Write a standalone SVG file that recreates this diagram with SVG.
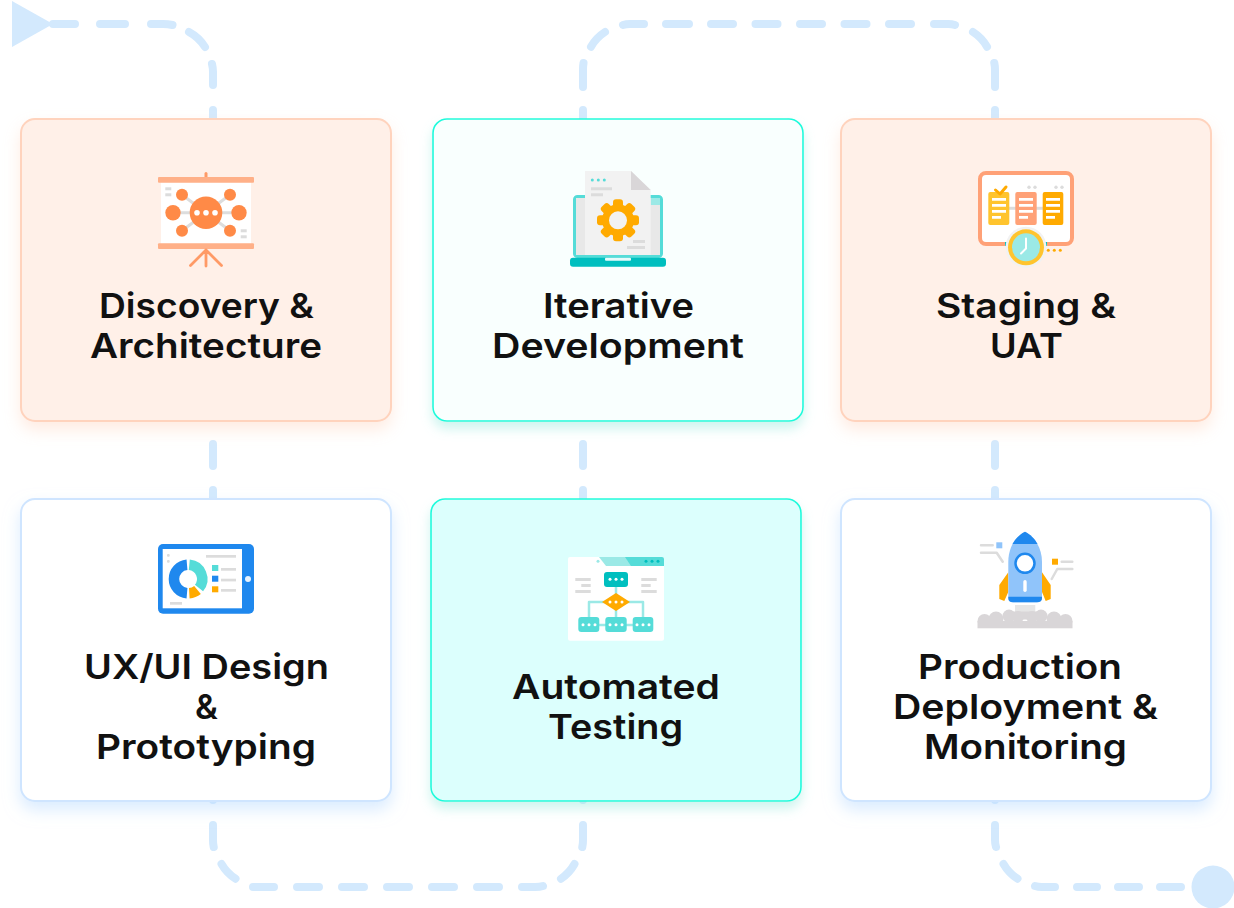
<svg xmlns="http://www.w3.org/2000/svg" width="1234" height="908" viewBox="0 0 1234 908">
<style>
.card{stroke-width:2}
.or{fill:#fff0e8;stroke:#ffd3bd;filter:url(#so)}
.tl{stroke:#1ffbdc;stroke-width:1.600}
.tl1{fill:#f9fffe;filter:url(#st)}
.tl2{fill:#dcfffd;filter:url(#st)}
.wh{fill:#fff;stroke:#cfe5ff;filter:url(#sb)}
.dash{fill:none;stroke:#d3e9fd;stroke-width:8;stroke-linecap:round}
text{font-family:"Inter","Liberation Sans",sans-serif;font-weight:600;font-size:34.5px;fill:#111;text-anchor:middle}
.g{fill:#dcdcdc}
.w{fill:#fff}
.ln{fill:none;stroke-linecap:round;stroke-linejoin:round}
</style>
<defs>
<filter id="so" x="-10%" y="-10%" width="120%" height="125%"><feDropShadow dx="0" dy="8" stdDeviation="8" flood-color="#ffd3bd" flood-opacity=".45"/></filter>
<filter id="st" x="-10%" y="-10%" width="120%" height="125%"><feDropShadow dx="0" dy="7" stdDeviation="6" flood-color="#8fe8dc" flood-opacity=".45"/></filter>
<filter id="sb" x="-10%" y="-10%" width="120%" height="125%"><feDropShadow dx="0" dy="8" stdDeviation="8" flood-color="#bcdcff" flood-opacity=".55"/></filter>
<rect id="tooth" x="-5" y="-21" width="10" height="10" rx="3" fill="#ffaa00"/>
<g id="d3"><circle cx="-6" r="1.500" fill="#fff"/><circle r="1.500" fill="#fff"/><circle cx="6" r="1.500" fill="#fff"/></g>
</defs>
<g id="connectors">
<polygon points="12,1 12,47 53,24" fill="#d3e9fd"/>
<path class="dash" d="M53 24H75M100 24H125M151 24H163Q168 24 172.500 25M189 32A43 43 0 0 1 205 47M212 64Q213 68 213 72V85M213 110V124M213 410V418M213 444V466M213 490V500M213 795V800M213 825V840Q213 844 213.700 847M221.500 864A43 43 0 0 0 235.500 878.700M253 887H274M297 887H319M342 887H364M387 887H409M432 887H454M477 887H499M522 887H535Q540 887 543 886M561 878.700A43 43 0 0 0 574.500 864M582.300 847Q583 844 583 840V825M583 795V800"/>
<path class="dash" d="M583 500V490M583 466V444M583 124V110M583 87V70Q583 66 583.500 63M591 46.700A43 43 0 0 1 605 32M623 25Q626 24 630 24H644M666 24H689M711 24H733M755.500 24H777.500M800 24H822M844.500 24H866.500M889 24H911M934 24H948Q952 24 955 25M973 32A43 43 0 0 1 987 46.700M994.300 63Q995 66 995 70V87M995 110V124M995 410V418M995 444V466M995 490V500"/>
<path class="dash" d="M995 795V800M995 825V840Q995 844 996 847M1003.500 864A43 43 0 0 0 1017.500 878.700M1035 886Q1038 887 1042 887H1055M1077 887H1097M1118 887H1139M1160 887H1181"/>
<circle cx="1213" cy="887" r="21.500" fill="#d3e9fd"/>
</g>
<g id="node-discovery">
<rect class="card or" x="21" y="119" width="370" height="302" rx="14"/>
<rect x="204.500" y="172" width="3" height="6" rx="1.500" fill="#ff9a66"/>
<rect x="161" y="182" width="90" height="62" class="w"/>
<rect x="158" y="177" width="96" height="5.700" rx="1" fill="#ffb088"/>
<rect x="158" y="243.300" width="96" height="5.700" rx="1" fill="#ffb088"/>
<path class="ln" stroke="#ddd" stroke-width="3" d="M173 212.700H239M182 194.700L230 230.700M230 194.700L182 230.700"/>
<g fill="#ff8a47"><circle cx="206" cy="212.700" r="16.300"/><circle cx="173" cy="212.700" r="7.700"/><circle cx="239" cy="212.700" r="7.700"/><circle cx="182" cy="194.700" r="6"/><circle cx="230" cy="194.700" r="6"/><circle cx="182" cy="230.700" r="6"/><circle cx="230" cy="230.700" r="6"/></g>
<g class="w"><circle cx="197" cy="212.700" r="2.800"/><circle cx="206" cy="212.700" r="2.800"/><circle cx="215" cy="212.700" r="2.800"/></g>
<rect class="g" x="165.300" y="187.300" width="6" height="3"/><rect class="g" x="165.300" y="193.300" width="6" height="3"/><rect class="g" x="240.700" y="229.300" width="6" height="3"/><rect class="g" x="240.700" y="235.300" width="6" height="3"/>
<path class="ln" stroke="#ff9a66" stroke-width="2.800" d="M190.500 265.500L206 250L221.500 265.500M206 250V266"/>
<text x="206.500" y="318" textLength="215" lengthAdjust="spacingAndGlyphs">Discovery &amp;</text><text x="206" y="358" textLength="232" lengthAdjust="spacingAndGlyphs">Architecture</text>
</g>
<g id="node-development">
<rect class="card tl tl1" x="433" y="119" width="370" height="302" rx="14"/>
<rect x="574.500" y="196.500" width="87" height="60" rx="3" fill="#fff" stroke="#55dcd8" stroke-width="3"/>
<rect x="576" y="198" width="84" height="57" fill="#e8e8e8"/>
<rect x="650.700" y="198" width="9.300" height="7" fill="#9be9e6"/>
<rect x="570" y="257.700" width="96" height="9" rx="3" fill="#00bfbf"/>
<rect x="605" y="257.700" width="26" height="3" rx="1" fill="#e6fbfb"/>
<path d="M585 171H631L650.700 190V255H585Z" fill="#f2f2f2"/><path d="M631 171L650.700 190H631Z" fill="#d9d6d8"/>
<g fill="#55dcd8"><circle cx="592.300" cy="180" r="1.500"/><circle cx="598.300" cy="180" r="1.500"/><circle cx="604.300" cy="180" r="1.500"/></g>
<rect class="g" x="591" y="187.300" width="21" height="3"/><rect class="g" x="591" y="193.300" width="12" height="3"/><rect class="g" x="633" y="240" width="12" height="3"/><rect class="g" x="627" y="246" width="18" height="3"/>
<g transform="translate(618 220.300)"><use href="#tooth"/><use href="#tooth" transform="rotate(45)"/><use href="#tooth" transform="rotate(90)"/><use href="#tooth" transform="rotate(135)"/><use href="#tooth" transform="rotate(180)"/><use href="#tooth" transform="rotate(225)"/><use href="#tooth" transform="rotate(270)"/><use href="#tooth" transform="rotate(315)"/><circle r="16" fill="#ffaa00"/><circle r="9" fill="#f2f2f2"/></g>
<text x="618.500" y="318" textLength="151" lengthAdjust="spacingAndGlyphs">Iterative</text><text x="618" y="358" textLength="252" lengthAdjust="spacingAndGlyphs">Development</text>
</g>
<g id="node-staging">
<rect class="card or" x="841" y="119" width="370" height="302" rx="14"/>
<rect x="980" y="173" width="92" height="71" rx="6" fill="#fff" stroke="#ffa177" stroke-width="4"/>
<rect x="1005" y="206.800" width="42" height="3" class="g"/>
<rect x="988.300" y="192" width="21" height="33" rx="2" fill="#ffc42e"/><rect x="1015.300" y="192" width="21.400" height="33" rx="2" fill="#ffa177"/><rect x="1042.700" y="192" width="20.600" height="33" rx="2" fill="#ffaa00"/>
<g class="w"><path d="M992 198h14v2.700h-14zM992 204h14v2.700h-14zM992 210h14v2.700h-14zM992 216h9v2.700h-9zM1019 198h14v2.700h-14zM1019 204h14v2.700h-14zM1019 210h14v2.700h-14zM1019 216h9v2.700h-9zM1046 198h14v2.700h-14zM1046 204h14v2.700h-14zM1046 210h14v2.700h-14zM1046 216h9v2.700h-9z"/></g>
<path class="ln" stroke="#ffaa00" stroke-width="3" d="M995.500 190L1000 194L1006 187"/>
<g class="g"><circle cx="1029" cy="187.300" r="1.700"/><circle cx="1035" cy="187.300" r="1.700"/><circle cx="1056" cy="187.300" r="1.700"/><circle cx="1062" cy="187.300" r="1.700"/></g>
<path d="M1005 242h5v4h-5zM1042 242h5v4h-5z" fill="#00bfbf"/>
<circle cx="1026" cy="247.300" r="20.500" fill="#f2f2f2"/><circle cx="1026" cy="247.300" r="18" fill="#ffc42e"/><circle cx="1026" cy="247.300" r="14" fill="#9be9e6"/>
<path class="ln" stroke="#fff" stroke-width="2" d="M1026 238.500V248.500L1021 253.500"/>
<g fill="#ffaa00"><circle cx="1048.300" cy="250.300" r="1.500"/><circle cx="1054.300" cy="250.300" r="1.500"/><circle cx="1060.300" cy="250.300" r="1.500"/></g>
<text x="1026" y="318" textLength="180" lengthAdjust="spacingAndGlyphs">Staging &amp;</text><text x="1026.500" y="358" textLength="73" lengthAdjust="spacingAndGlyphs">UAT</text>
</g>
<g id="node-design">
<rect class="card wh" x="21" y="499" width="370" height="302" rx="14"/>
<rect x="158" y="544" width="96" height="69.700" rx="5" fill="#1f88ee"/>
<rect x="162.700" y="549" width="79.300" height="59.300" class="w"/>
<circle cx="248" cy="579" r="3" fill="#e8f3fe"/>
<g fill="none" stroke-width="10.500"><path d="M187 564.800A14.250 14.250 0 0 0 187 593.200" stroke="#1f88ee"/><path d="M189.300 564.800A14.250 14.250 0 0 1 199 588" stroke="#55dcd8"/><path d="M197.500 590A14.250 14.250 0 0 1 189.300 593.200" stroke="#ffaa00"/></g>
<rect class="g" x="167" y="554" width="2.700" height="2.700" rx="1"/><rect class="g" x="167" y="560" width="2.700" height="2.700" rx="1"/>
<rect class="g" x="206" y="555" width="30" height="2.700"/><rect class="g" x="221" y="568" width="15" height="2.700"/><rect class="g" x="221" y="578.700" width="15" height="2.700"/><rect class="g" x="221" y="589" width="15" height="2.700"/><rect class="g" x="170" y="602" width="12" height="2.700"/>
<rect x="212" y="565" width="6.300" height="6" fill="#55dcd8"/><rect x="212" y="575.700" width="6.300" height="6" fill="#1f88ee"/><rect x="212" y="586.300" width="6.300" height="6" fill="#ffaa00"/>
<text x="206.500" y="679" textLength="245" lengthAdjust="spacingAndGlyphs">UX/UI Design</text><text x="206.500" y="719">&amp;</text><text x="206" y="759" textLength="220" lengthAdjust="spacingAndGlyphs">Prototyping</text>
</g>
<g id="node-testing">
<rect class="card tl tl2" x="431" y="499" width="370" height="302" rx="14"/>
<rect x="568" y="557" width="96" height="83.700" rx="2" class="w"/>
<path d="M599 557H628L634 566H606Z" fill="#9be9e6"/><path d="M625 557H662Q664 557 664 559V566H631Z" fill="#55dcd8"/>
<circle cx="598" cy="561.300" r="1.500" fill="#9be9e6"/>
<g fill="#00bfbf"><circle cx="646" cy="561.300" r="1.500"/><circle cx="652" cy="561.300" r="1.500"/><circle cx="658" cy="561.300" r="1.500"/></g>
<g class="g"><rect x="575.300" y="578" width="15.400" height="3"/><rect x="581.300" y="584" width="9.400" height="3"/><rect x="575.300" y="590" width="15.400" height="3"/><rect x="641.300" y="578" width="15.400" height="3"/><rect x="641.300" y="584" width="9.400" height="3"/><rect x="641.300" y="590" width="15.400" height="3"/></g>
<path class="ln" stroke="#9be9e6" stroke-width="2.500" d="M616 587V620M589 620V602H643V620M595 625H640"/>
<rect x="604" y="572" width="24" height="15" rx="3" fill="#00bfbf"/>
<polygon points="602,602 616,593 630,602 616,611" fill="#ffaa00"/>
<rect x="578.300" y="617" width="21" height="15" rx="3" fill="#55dcd8"/><rect x="605.300" y="617" width="21.400" height="15" rx="3" fill="#55dcd8"/><rect x="632.700" y="617" width="20.600" height="15" rx="3" fill="#55dcd8"/>
<use href="#d3" x="616" y="579.300"/><use href="#d3" x="616" y="602"/><use href="#d3" x="589" y="624.700"/><use href="#d3" x="616" y="624.700"/><use href="#d3" x="643" y="624.700"/>
<text x="616" y="699" textLength="208" lengthAdjust="spacingAndGlyphs">Automated</text><text x="615.500" y="739" textLength="135" lengthAdjust="spacingAndGlyphs">Testing</text>
</g>
<g id="node-deployment">
<rect class="card wh" x="841" y="499" width="370" height="302" rx="14"/>
<rect x="1015" y="605" width="20.300" height="8" fill="#e6e6e6"/>
<g fill="#d9d6d8"><circle cx="984.500" cy="621" r="7"/><circle cx="996" cy="619" r="7.500"/><circle cx="1009" cy="616" r="6.500"/><circle cx="1018" cy="617" r="6"/><circle cx="1032" cy="617" r="6"/><circle cx="1041" cy="616" r="6.500"/><circle cx="1054" cy="619" r="7.500"/><circle cx="1065.500" cy="621" r="7"/><rect x="1005" y="611.500" width="40" height="8"/><rect x="977.500" y="621" width="95" height="7.300"/></g>
<path d="M1008.300 572.300L999.300 585V599L1004.300 601L1008.300 592ZM1042 572.300L1050.700 585V599L1045.700 601L1042 592Z" fill="#ffaa00"/>
<path d="M1025 531.700C1015 537 1008.300 548 1008.300 562V597Q1008.300 602.300 1013 602.300H1037Q1042 602.300 1042 597V562C1042 548 1035 537 1025 531.700Z" fill="#90c4fa"/>
<path d="M1025 531.700C1020 534 1015 539 1012.500 544H1037.500C1035 539 1030 534 1025 531.700Z" fill="#1f88ee"/>
<path d="M1008.300 596.700H1042V598Q1042 602.300 1037 602.300H1013Q1008.300 602.300 1008.300 598Z" fill="#1f88ee"/>
<circle cx="1025" cy="563.300" r="9.500" fill="#fff" stroke="#1f88ee" stroke-width="2.500"/>
<rect x="1023.300" y="580" width="3.400" height="12" rx="1.700" fill="#fff"/>
<path class="ln" stroke="#dcdcdc" stroke-width="2.500" d="M981 545.300H992.700M981 552.700H996.700L1002.700 561.700M1061.700 561.700H1072.300M1072.300 569H1057.300L1051.700 579"/>
<rect x="996.300" y="542.300" width="6" height="6" fill="#90c4fa"/><rect x="1052" y="558.700" width="6" height="6" fill="#ffaa00"/>
<text x="1020" y="679" textLength="204" lengthAdjust="spacingAndGlyphs">Production</text><text x="1025.500" y="719" textLength="265" lengthAdjust="spacingAndGlyphs">Deployment &amp;</text><text x="1025.500" y="759" textLength="203" lengthAdjust="spacingAndGlyphs">Monitoring</text>
</g>
</svg>
